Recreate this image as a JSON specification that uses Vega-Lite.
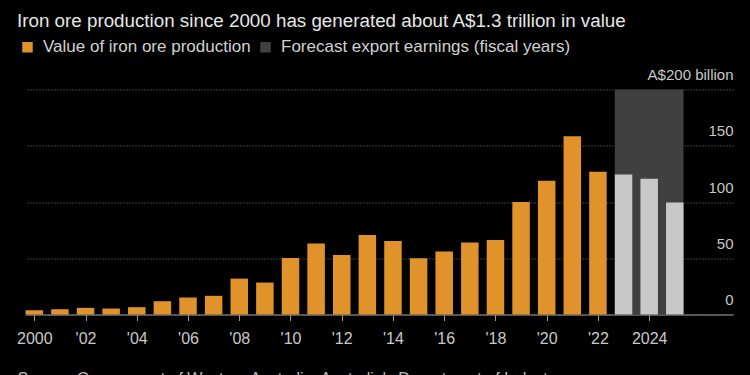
{
  "$schema": "https://vega.github.io/schema/vega-lite/v6.json",
  "autosize": {"type": "none"},
  "width": 708,
  "height": 225,
  "padding": {"left": 25, "top": 89.5, "right": 17, "bottom": 60.5},
  "background": "#000000",
  "config": {"view": {"stroke": null}, "font": "Liberation Sans"},
  "title": {
    "text": "Iron ore production since 2000 has generated about A$1.3 trillion in value",
    "anchor": "start",
    "frame": "group",
    "dx": -8,
    "dy": -4,
    "fontSize": 18.8,
    "fontWeight": "normal",
    "color": "#e6e6e6"
  },
  "datasets": {
    "production": [
      {"year": 2000, "value": 3.8, "series": "Value of iron ore production"},
      {"year": 2001, "value": 4.7, "series": "Value of iron ore production"},
      {"year": 2002, "value": 5.9, "series": "Value of iron ore production"},
      {"year": 2003, "value": 5.3, "series": "Value of iron ore production"},
      {"year": 2004, "value": 6.5, "series": "Value of iron ore production"},
      {"year": 2005, "value": 11.8, "series": "Value of iron ore production"},
      {"year": 2006, "value": 15.1, "series": "Value of iron ore production"},
      {"year": 2007, "value": 16.6, "series": "Value of iron ore production"},
      {"year": 2008, "value": 31.9, "series": "Value of iron ore production"},
      {"year": 2009, "value": 28.4, "series": "Value of iron ore production"},
      {"year": 2010, "value": 50.2, "series": "Value of iron ore production"},
      {"year": 2011, "value": 63.2, "series": "Value of iron ore production"},
      {"year": 2012, "value": 52.9, "series": "Value of iron ore production"},
      {"year": 2013, "value": 70.6, "series": "Value of iron ore production"},
      {"year": 2014, "value": 65.3, "series": "Value of iron ore production"},
      {"year": 2015, "value": 49.9, "series": "Value of iron ore production"},
      {"year": 2016, "value": 55.9, "series": "Value of iron ore production"},
      {"year": 2017, "value": 64.1, "series": "Value of iron ore production"},
      {"year": 2018, "value": 66.2, "series": "Value of iron ore production"},
      {"year": 2019, "value": 99.9, "series": "Value of iron ore production"},
      {"year": 2020, "value": 118.8, "series": "Value of iron ore production"},
      {"year": 2021, "value": 158.4, "series": "Value of iron ore production"},
      {"year": 2022, "value": 126.8, "series": "Value of iron ore production"}
    ],
    "forecast": [
      {"year": 2023, "value": 124.4},
      {"year": 2024, "value": 120.6},
      {"year": 2025, "value": 99.6}
    ],
    "region": [
      {"start": 2023, "end": 2025, "low": 0, "high": 200, "series": "Forecast export earnings (fiscal years)"}
    ]
  },
  "layer": [
    {
      "data": {"name": "region"},
      "mark": {"type": "rect", "xOffset": -8.75, "x2Offset": 8.75},
      "encoding": {
        "x": {
          "field": "start",
          "type": "quantitative",
          "scale": {"domain": [1999.637, 2027.272], "nice": false, "zero": false, "padding": 0},
          "axis": {
            "values": [2000, 2002, 2004, 2006, 2008, 2010, 2012, 2014, 2016, 2018, 2020, 2022, 2024],
            "labelExpr": "datum.value == 2000 || datum.value == 2024 ? toString(datum.value) : \"'\" + substring(toString(datum.value), 2)",
            "grid": false,
            "domainColor": "#9a9a9a",
            "domainWidth": 1,
            "tickColor": "#9a9a9a",
            "tickSize": 6,
            "labelFontSize": 16,
            "labelColor": "#c8c8c8",
            "labelBaseline": "alphabetic",
            "labelPadding": 22.8,
            "labelFlush": false,
            "labelOverlap": false,
            "title": "Source: Government of Western Australia, Australia's Department of Industry",
            "titleAnchor": "start",
            "titleAlign": "left",
            "titleX": -8,
            "titleY": 68.5,
            "titleBaseline": "alphabetic",
            "titleFontSize": 16,
            "titleFontWeight": "normal",
            "titleColor": "#bbbbbb"
          }
        },
        "x2": {"field": "end"},
        "y": {
          "field": "low",
          "type": "quantitative",
          "scale": {"domain": [0, 200], "nice": false, "padding": 0},
          "axis": {
            "orient": "right",
            "values": [0, 50, 100, 150, 200],
            "labelExpr": "datum.value == 200 ? 'A$200 billion' : datum.label",
            "grid": true,
            "gridColor": "#777777",
            "gridDash": [1, 2],
            "gridWidth": 1,
            "domain": false,
            "ticks": false,
            "labelAlign": "right",
            "labelPadding": 0,
            "labelBaseline": "alphabetic",
            "labelOffset": -10,
            "labelFontSize": 15,
            "labelColor": "#c8c8c8",
            "labelFlush": false,
            "labelOverlap": false,
            "title": null
          }
        },
        "y2": {"field": "high"},
        "color": {
          "field": "series",
          "type": "nominal",
          "scale": {
            "domain": ["Value of iron ore production", "Forecast export earnings (fiscal years)"],
            "range": ["#e0922b", "#404040"]
          },
          "legend": {
            "orient": "none",
            "legendX": -6,
            "legendY": -51,
            "direction": "horizontal",
            "title": null,
            "symbolType": "square",
            "symbolSize": 110,
            "symbolStrokeWidth": 0,
            "symbolOpacity": 1,
            "labelFontSize": 17,
            "labelColor": "#d0d0d0",
            "labelOffset": 7,
            "columnPadding": 6,
            "padding": 0,
            "labelLimit": 400
          }
        }
      }
    },
    {
      "data": {"name": "production"},
      "mark": {"type": "bar", "size": 17.5},
      "encoding": {
        "x": {"field": "year", "type": "quantitative"},
        "y": {"field": "value", "type": "quantitative"},
        "color": {"field": "series", "type": "nominal"}
      }
    },
    {
      "data": {"name": "forecast"},
      "mark": {"type": "bar", "size": 17.5, "color": "#c8c8c8"},
      "encoding": {
        "x": {"field": "year", "type": "quantitative"},
        "y": {"field": "value", "type": "quantitative"}
      }
    }
  ]
}
